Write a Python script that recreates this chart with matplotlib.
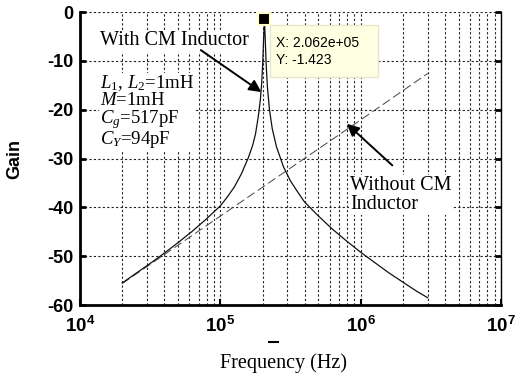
import matplotlib
matplotlib.use('Agg')
import matplotlib.pyplot as plt
from matplotlib.ticker import FixedLocator, FixedFormatter, NullFormatter, LogLocator
from matplotlib.patches import Rectangle
from matplotlib.lines import Line2D

# ---- data ----
freq_cm = [2.0e4, 2.51e4, 3.16e4, 3.98e4, 5.01e4, 6.31e4, 7.94e4, 1.0e5, 1.12e5,
           1.26e5, 1.41e5, 1.585e5, 1.70e5, 1.78e5, 1.862e5, 1.928e5, 1.972e5,
           2.009e5, 2.037e5, 2.062e5, 2.089e5, 2.118e5, 2.163e5, 2.239e5, 2.344e5,
           2.512e5, 2.818e5, 3.162e5, 3.548e5, 3.981e5, 5.01e5, 6.31e5, 7.94e5,
           1.0e6, 1.259e6, 1.585e6, 1.995e6, 2.512e6, 3.0e6]
gain_cm = [-55.5, -53.5, -51.5, -49.4, -47.2, -44.9, -42.4, -39.7, -37.9,
           -35.8, -33.2, -29.8, -27.3, -25.0, -21.5, -18.0, -14.5,
           -10.0, -5.0, -1.423, -5.5, -10.3, -15.2, -20.0, -23.9,
           -27.6, -31.7, -34.6, -36.8, -38.9, -41.8, -44.5, -46.9,
           -49.2, -51.3, -53.4, -55.3, -57.2, -58.5]

freq_no_cm = [2.0e4, 1.0e5, 1.0e6, 3.0e6]
gain_no_cm = [-55.6, -41.8, -22.1, -12.6]

peak_freq = 2.062e5
peak_gain = -1.423

yticks = [-60, -50, -40, -30, -20, -10, 0]
ytick_labels = ['-60', '-50', '-40', '-30', '-20', '-10', '0']
xticks = [1e4, 1e5, 1e6, 1e7]
xtick_labels = [r'$\mathbf{10^{4}}$', r'$\mathbf{10^{5}}$', r'$\mathbf{10^{6}}$', r'$\mathbf{10^{7}}$']

param_lines = [r'$L_{\mathit{1}}$, $L_{\mathit{2}}$=1mH', r'$M$=1mH',
               r'$C_{g}$=517pF', r'$C_{Y}$=94pF']

# ---- style ----
plt.rcParams['mathtext.fontset'] = 'custom'
plt.rcParams['mathtext.rm'] = 'Liberation Serif'
plt.rcParams['mathtext.it'] = 'Liberation Serif:italic'
plt.rcParams['mathtext.bf'] = 'Liberation Sans:bold'
plt.rcParams['font.family'] = ['Liberation Sans', 'DejaVu Sans']

W, H = 525, 380
fig = plt.figure(figsize=(W / 100, H / 100), dpi=100)
L, R, T, B = 80, 501, 12, 305
ax = fig.add_axes([L / W, 1 - B / H, (R - L) / W, (B - T) / H])

ax.set_xscale('log')
ax.set_xlim(1e4, 1e7)
ax.set_ylim(-60, 0)

grid_kw = dict(color='#222222', linewidth=0.8, linestyle=(0, (2.0, 2.0)))
ax.xaxis.set_major_locator(FixedLocator(xticks))
ax.xaxis.set_major_formatter(FixedFormatter(xtick_labels))
ax.xaxis.set_minor_locator(LogLocator(base=10, subs=[2, 3, 4, 5, 6, 7, 8, 9]))
ax.xaxis.set_minor_formatter(NullFormatter())
ax.yaxis.set_major_locator(FixedLocator(yticks))
ax.yaxis.set_major_formatter(FixedFormatter(ytick_labels))
ax.grid(True, which='major', axis='both', **grid_kw)
ax.grid(True, which='minor', axis='x', **grid_kw)
ax.set_axisbelow(True)

ax.tick_params(axis='both', which='both', direction='in')
ax.tick_params(axis='x', which='minor', length=0)
ax.tick_params(axis='x', which='major', length=4, width=1.5, pad=8, labelsize=13.5)
ax.tick_params(axis='y', which='major', length=4, width=2, pad=5, labelsize=13,
               right=True)
for lab in ax.get_yticklabels():
    lab.set_fontweight('bold')

ax.spines['top'].set_visible(False)
ax.spines['left'].set_linewidth(2)
ax.spines['bottom'].set_linewidth(2)
ax.spines['right'].set_linewidth(1)

# curves
ax.plot(freq_no_cm, gain_no_cm, color='#444444', lw=0.7, linestyle=(0, (9, 4)))
ax.plot(freq_cm, gain_cm, color='#111111', lw=0.9)
ax.plot([peak_freq], [peak_gain], marker='s', ms=8, mfc='k', mec='#FFFFC8',
        mew=1.5, clip_on=False, zorder=6, linestyle='none')

serif = 'Liberation Serif'
white = dict(facecolor='white', edgecolor='none', pad=1.0)
ax.text(1.39e4, -6.8, 'With CM Inductor', family=serif, fontsize=14.5,
        va='baseline', ha='left', bbox=white)
ax.annotate('', xy=(1.96e5, -16.4), xytext=(7.26e4, -7.8),
            arrowprops=dict(arrowstyle='-|>', color='k', lw=1.4,
                            mutation_scale=18, shrinkA=0, shrinkB=0))
ax.text(1.39e4, -27.1, '\n'.join(param_lines), family=serif, fontsize=13.5,
        va='baseline', ha='left', linespacing=0.92, bbox=white)

ax.text(8.4e5, -40.3, 'Without CM\nInductor', family=serif, fontsize=14.5,
        va='baseline', ha='left', linespacing=0.95, bbox=white)
ax.annotate('', xy=(7.98e5, -22.9), xytext=(1.68e6, -31.4),
            arrowprops=dict(arrowstyle='-|>', color='k', lw=1.4,
                            mutation_scale=18, shrinkA=0, shrinkB=0))

# data tip
rect = Rectangle((270 / W, 1 - 77 / H), 108 / W, 52 / H, transform=fig.transFigure,
                 facecolor='#FFFFE1', edgecolor='#E6E6C8', lw=1, zorder=5)
fig.add_artist(rect)
fig.text(276.5 / W, 1 - 64 / H, f'X: {peak_freq:.3e}\nY: {peak_gain:.3f}',
         fontsize=10, va='baseline', ha='left', linespacing=1.3, zorder=6)

# labels
ax.set_ylabel('Gain', fontweight='bold', fontsize=13)
ax.yaxis.set_label_coords(-0.135, 0.5)
fig.text(283 / W, 1 - 368 / H, 'Frequency (Hz)', family=serif, fontsize=14.5,
         ha='center', va='baseline')
fig.add_artist(Line2D([269 / W, 278 / W], [1 - 342 / H, 1 - 342 / H],
                      transform=fig.transFigure, color='k', lw=1.5))

fig.savefig('out.png', dpi=100)
